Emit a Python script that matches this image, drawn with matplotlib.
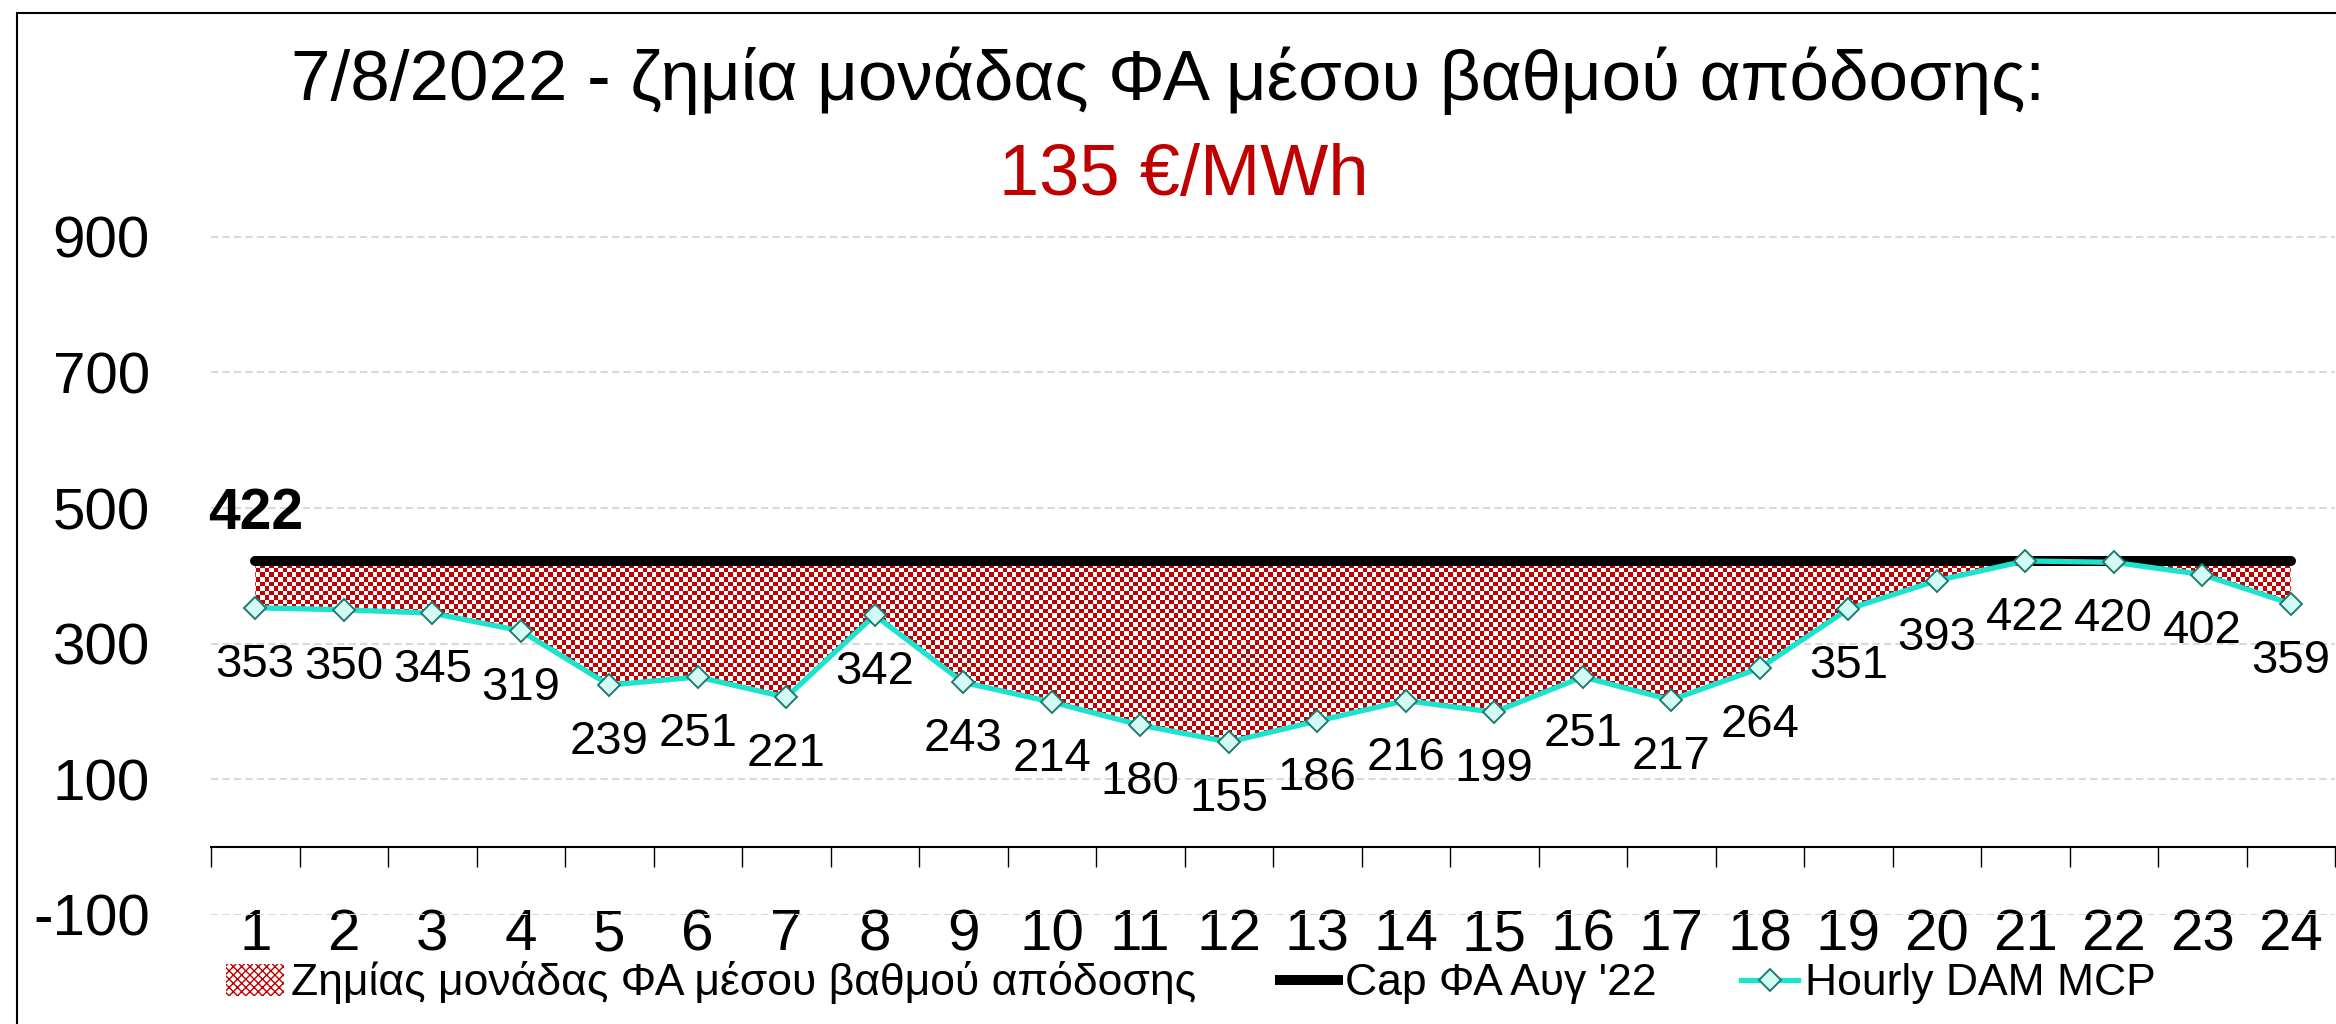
import numpy as np
import matplotlib as mpl
mpl.use('Agg')
from matplotlib import pyplot as plt
from matplotlib.colors import ListedColormap
from matplotlib.patches import Patch, Rectangle
from matplotlib.lines import Line2D

plt.rcParams['font.family'] = ['Liberation Sans', 'DejaVu Sans']
plt.rcParams['axes.unicode_minus'] = False

# data
hours = list(range(1, 25))
price = [353, 350, 345, 319, 239, 251, 221, 342, 243, 214, 180, 155,
         186, 216, 199, 251, 217, 264, 351, 393, 422, 420, 402, 359]
cap = [422] * 24
yticks = [-100, 100, 300, 500, 700, 900]

title1 = '7/8/2022 - ζημία μονάδας ΦΑ μέσου βαθμού απόδοσης:'
title2 = '135 €/MWh'
lbl_fill = 'Ζημίας μονάδας ΦΑ μέσου βαθμού απόδοσης'
lbl_cap = "Cap ΦΑ Αυγ '22"
lbl_price = 'Hourly DAM MCP'

red = '#C00000'
cyan = '#1CE3CD'
teal = '#1E7B70'

W, H = 2336, 1024
fig = plt.figure(figsize=(W / 100, H / 100), dpi=100)
ax = fig.add_axes([211 / W, 1 - 915 / H, (2335 - 211) / W, 685 / H])

# checkerboard fill between price and cap
fill = ax.fill_between(hours, price, cap, facecolor='none', edgecolor='none')
ny, nx = int(685 / 4.5), int(2124 / 4.5)
checker = np.indices((ny, nx)).sum(axis=0) % 2
im = ax.imshow(checker, extent=(0, 1, 0, 1), transform=ax.transAxes,
               cmap=ListedColormap(['white', red]), interpolation='nearest',
               aspect='auto', zorder=1)
im.set_clip_path(fill.get_paths()[0], transform=ax.transData)

ax.plot(hours, cap, color='black', lw=7.2, solid_capstyle='round', zorder=3)
ax.plot(hours, price, color=cyan, lw=3.8, marker='D', ms=11.5,
        mfc='#D4FAF4', mec=teal, mew=1.4, zorder=4)

for h, p in zip(hours, price):
    ax.annotate(str(p), (h, p), xytext=(0, -41), textcoords='offset points',
                ha='center', va='center', fontsize=34, zorder=5)
ax.annotate(str(cap[0]), (hours[0], cap[0]), xytext=(0, 34),
            textcoords='offset points', ha='center', va='center',
            fontsize=41, fontweight='bold')

ax.set_xlim(0.5, 24.5)
ax.set_ylim(-100, 910)
ax.set_yticks(yticks)
ax.set_xticks(hours)
ax.set_xticks(np.arange(0.5, 25, 1), minor=True)
ax.tick_params(axis='y', length=0, pad=44, labelsize=42)
ax.tick_params(axis='x', which='major', length=0, pad=44, labelsize=42)
ax.tick_params(axis='x', which='minor', length=14.4, width=1, direction='out')
ax.grid(axis='y', color='#D9D9D9', lw=1.5, linestyle=(0, (3.5, 2)))
ax.set_axisbelow(True)
for s in ['left', 'top', 'right']:
    ax.spines[s].set_visible(False)
ax.spines['bottom'].set_position(('data', 0))
ax.spines['bottom'].set_linewidth(1.5)

fig.text(1168 / W, 1 - 81 / H, title1, ha='center', va='center', fontsize=51)
fig.text(1184 / W, 1 - 177 / H, title2, ha='center', va='center',
         fontsize=52, color=red)

handles = [Patch(facecolor='white', edgecolor=red, hatch='xxxx', lw=0),
           Line2D([], [], color='black', lw=7.2),
           Line2D([], [], color=cyan, lw=3.8, marker='D', ms=11.5,
                  mfc='#D4FAF4', mec=teal, mew=1.4)]
fig.legend(handles, [lbl_fill, lbl_cap, lbl_price], ncol=3, loc='center',
           bbox_to_anchor=(1191 / W, 1 - 983 / H), frameon=False,
           fontsize=32, handlelength=1.3, handletextpad=0.15,
           columnspacing=1.9)

fig.patches.append(Rectangle((17 / W, -0.05), 1.1, 1 - 13 / H + 0.05,
                             transform=fig.transFigure, fill=False,
                             edgecolor='black', lw=1.5))

fig.savefig('out.png', dpi=100)
